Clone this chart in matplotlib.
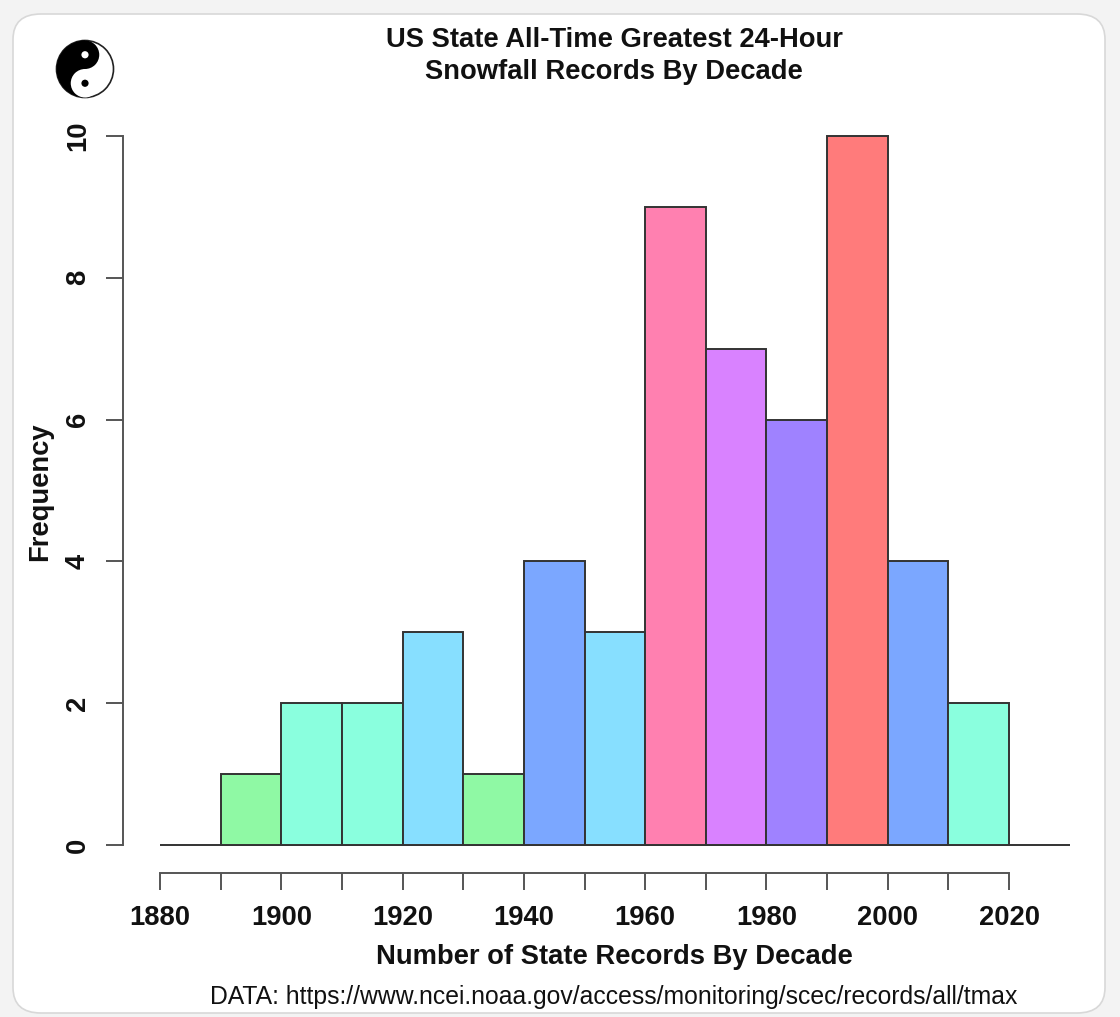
import matplotlib
matplotlib.use("Agg")
import matplotlib.pyplot as plt
from matplotlib.patches import FancyBboxPatch, Circle, Wedge
import numpy as np

plt.rcParams['font.family'] = ['Liberation Sans', 'DejaVu Sans']

# decade histogram data
bin_edges = [1890, 1900, 1910, 1920, 1930, 1940, 1950, 1960, 1970, 1980, 1990, 2000, 2010, 2020]
counts = [1, 2, 2, 3, 1, 4, 3, 9, 7, 6, 10, 4, 2]
bar_colors = ['#8ff9a4', '#8affde', '#8affde', '#87dfff', '#8ff9a4', '#7ba7ff', '#87dfff',
              '#ff80b0', '#d982ff', '#9f82ff', '#ff7b7b', '#7ba7ff', '#8affde']
x_ticks = list(range(1880, 2021, 10))
x_ticklabels = [str(t) if t % 20 == 0 else '' for t in x_ticks]
y_ticks = [0, 2, 4, 6, 8, 10]

W, H = 1120, 1017
BIG = 19.7
fig = plt.figure(figsize=(W / 100, H / 100), dpi=100, facecolor='#f3f3f3')

# white card with rounded corners
card = FancyBboxPatch((13 / W, 4 / H), 1092 / W, 999 / H,
                      boxstyle="round,pad=0,rounding_size=0.025",
                      transform=fig.transFigure, facecolor='white',
                      edgecolor='#d8d8d8', linewidth=1.2, zorder=-5)
fig.patches.append(card)

ax = fig.add_axes([123 / W, 1 - 873 / H, 977 / W, (873 - 107) / H])
ax.set_facecolor('none')

lefts = np.array(bin_edges[:-1])
widths = np.diff(bin_edges)
ax.bar(lefts, counts, width=widths, align='edge', color=bar_colors,
       edgecolor='#333333', linewidth=1.4, zorder=3)
ax.hlines(0, 1880, 2030, color='#333333', linewidth=1.4, zorder=2)

ax.set_xlim(1880 - 37 / 6.064, 2035)
ax.set_ylim(-28 / 71.0, 10 + 29 / 71.0)

for s in ['top', 'right']:
    ax.spines[s].set_visible(False)
ax.spines['left'].set_bounds(0, 10)
ax.spines['bottom'].set_bounds(1880, 2020)
for s in ['left', 'bottom']:
    ax.spines[s].set_color('#555555')
    ax.spines[s].set_linewidth(1.4)

ax.set_xticks(x_ticks)
ax.set_xticklabels(x_ticklabels)
ax.set_yticks(y_ticks)
ax.set_yticklabels([str(v) for v in y_ticks], rotation=90, va='center')
ax.tick_params(axis='both', length=12, width=1.4, color='#555555',
               labelsize=BIG, labelcolor='#111111')
ax.tick_params(axis='x', pad=11)
ax.tick_params(axis='y', pad=11)
for lab in ax.get_xticklabels() + ax.get_yticklabels():
    lab.set_fontweight('bold')

fig.text(614 / W, 1 - 40 / H, 'US State All-Time Greatest 24-Hour', ha='center', va='center',
         fontsize=BIG, fontweight='bold', color='#111111')
fig.text(614 / W, 1 - 72 / H, 'Snowfall Records By Decade', ha='center', va='center',
         fontsize=BIG, fontweight='bold', color='#111111')
fig.text(614 / W, 1 - 957 / H, 'Number of State Records By Decade', ha='center', va='center',
         fontsize=BIG, fontweight='bold', color='#111111')
fig.text(40 / W, 1 - 492 / H, 'Frequency', ha='center', va='center', rotation=90,
         fontsize=BIG, fontweight='bold', color='#111111')
fig.text(614 / W, 1 - 997 / H, 'DATA: https://www.ncei.noaa.gov/access/monitoring/scec/records/all/tmax',
         ha='center', va='center', fontsize=17.8, color='#111111')

# small yin-yang style logo, top left
lax = fig.add_axes([52 / W, 1 - 102 / H, 66 / W, 66 / H])
lax.set_xlim(-1.1, 1.1)
lax.set_ylim(-1.1, 1.1)
lax.set_aspect('equal')
lax.axis('off')
lax.add_patch(Circle((0, 0), 0.95, facecolor='white', edgecolor='#222222', lw=1.2))
lax.add_patch(Wedge((0, 0), 0.95, 90, 270, facecolor='black'))
lax.add_patch(Circle((0, 0.475), 0.475, facecolor='black'))
lax.add_patch(Circle((0, -0.475), 0.475, facecolor='white'))
lax.add_patch(Circle((0, 0.475), 0.12, facecolor='white'))
lax.add_patch(Circle((0, -0.475), 0.12, facecolor='black'))

fig.savefig('out.png', dpi=100, facecolor=fig.get_facecolor())
